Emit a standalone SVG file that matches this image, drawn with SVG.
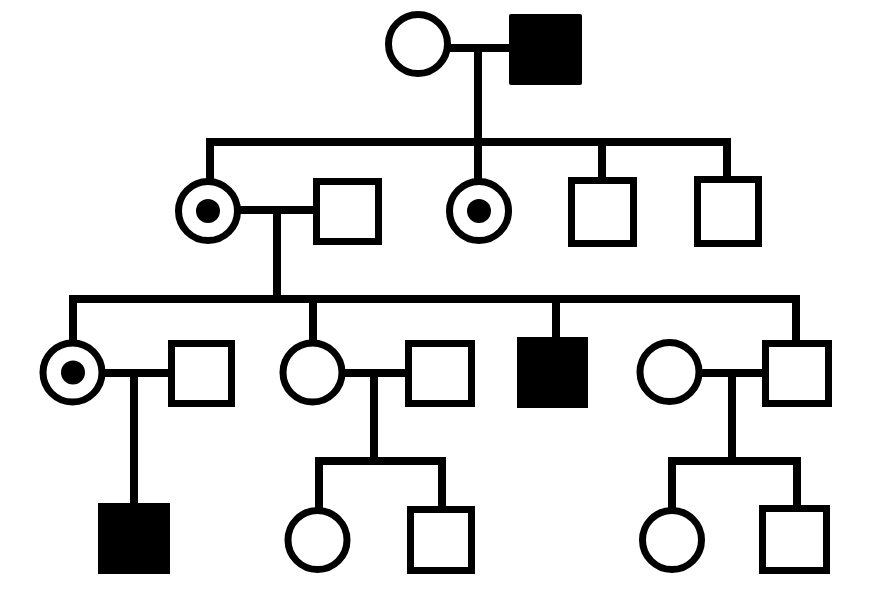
<svg xmlns="http://www.w3.org/2000/svg" width="873" height="592" viewBox="0 0 873 592">
<style>
.ln{stroke:#000;stroke-width:8;fill:none}
.f{fill:#fff;stroke:#000;stroke-width:7}
.a{fill:#000}
</style>
<rect width="873" height="592" fill="#fff"/>
<g id="connectors">
<path class="ln" d="M448 48H509M478 48V142"/>
<path class="ln" d="M206 142H731M210 142V180M478 142V180M602 142V180M727 142V180"/>
<path class="ln" d="M238 210H316M277 210V299"/>
<path class="ln" d="M69 299H800M73 299V342M313 299V342M556 299V340M796 299V342"/>
<path class="ln" d="M102 373H170M134 373V505"/>
<path class="ln" d="M342 373H408M374 373V461"/>
<path class="ln" d="M699 373H765M732 373V461"/>
<path class="ln" d="M315 461H446M319 461V510M442 461V508"/>
<path class="ln" d="M668 461H801M672 461V510M797 461V508"/>
</g>
<g id="I-1"><circle class="f" cx="418" cy="44" r="29.5"/></g>
<g id="I-2"><rect class="a" x="509" y="14" width="73" height="71" rx="2"/></g>
<g id="II-1"><circle class="f" cx="208" cy="211" r="29.5"/><circle class="a" cx="208" cy="211" r="12"/></g>
<g id="II-2"><rect class="f" x="316.5" y="181.5" width="62" height="60"/></g>
<g id="II-3"><circle class="f" cx="479" cy="211" r="29.5"/><circle class="a" cx="479" cy="211" r="12"/></g>
<g id="II-4"><rect class="f" x="571.5" y="180.5" width="62" height="63"/></g>
<g id="II-5"><rect class="f" x="697.5" y="179.5" width="61" height="64"/></g>
<g id="III-1"><circle class="f" cx="72.5" cy="372.5" r="29.5"/><circle class="a" cx="73" cy="372.5" r="12"/></g>
<g id="III-2"><rect class="f" x="171.5" y="343.5" width="60" height="60"/></g>
<g id="III-3"><circle class="f" cx="312.5" cy="372.5" r="29.5"/></g>
<g id="III-4"><rect class="f" x="408.5" y="343.5" width="63" height="60"/></g>
<g id="III-5"><rect class="a" x="517" y="337" width="71" height="71"/></g>
<g id="III-6"><circle class="f" cx="669.5" cy="372" r="29.5"/></g>
<g id="III-7"><rect class="f" x="765.5" y="343.5" width="63" height="60"/></g>
<g id="IV-1"><rect class="a" x="98" y="503" width="72" height="71"/></g>
<g id="IV-2"><circle class="f" cx="317.5" cy="540" r="29.5"/></g>
<g id="IV-3"><rect class="f" x="410.5" y="509.5" width="61" height="61"/></g>
<g id="IV-4"><circle class="f" cx="672" cy="540" r="29.5"/></g>
<g id="IV-5"><rect class="f" x="762.5" y="508.5" width="64" height="62"/></g>
</svg>
